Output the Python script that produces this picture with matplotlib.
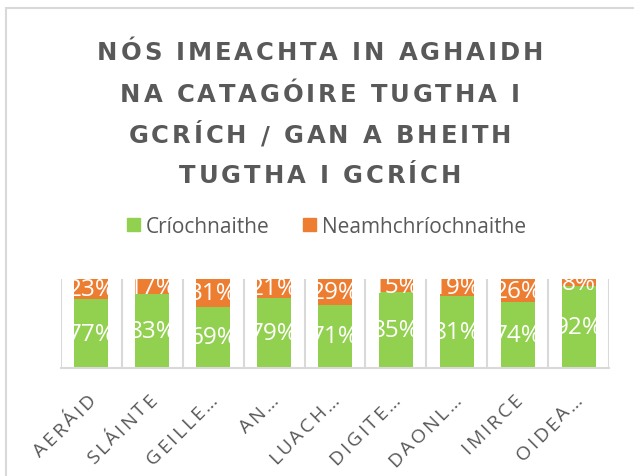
import numpy as np
import matplotlib
matplotlib.use('Agg')
import matplotlib.pyplot as plt
from matplotlib.patches import Rectangle, Patch
from matplotlib.font_manager import FontProperties

categories = ['AERÁID', 'SLÁINTE', 'GEILLE…', 'AN…', 'LUACH…', 'DIGITE…', 'DAONL…', 'IMIRCE', 'OIDEA…']
criochnaithe = [77, 83, 69, 79, 71, 85, 81, 74, 92]
neamhchriochnaithe = [23, 17, 31, 21, 29, 15, 19, 26, 8]
series_names = ['Críochnaithe', 'Neamhchríochnaithe']
title_lines = ['NÓS IMEACHTA IN AGHAIDH', 'NA CATAGÓIRE TUGTHA I',
               'GCRÍCH / GAN A BHEITH', 'TUGTHA I GCRÍCH']

GREEN = '#92D050'
ORANGE = '#ED7D31'
GREY = '#595959'
LIGHT = '#D9D9D9'

W, H = 634, 477
fig = plt.figure(figsize=(W / 100, H / 100), dpi=100)
renderer = fig.canvas.get_renderer()


def advances(text, fp):
    base = renderer.get_text_width_height_descent('HH', fp, ismath=False)[0]
    return [renderer.get_text_width_height_descent('H' + c + 'H', fp, ismath=False)[0] - base
            for c in text]


def spacing_for(text, fp, width):
    return (width - sum(advances(text, fp))) / (len(text) - 1)


def spaced_text(text, x, y, fp, spacing, color, angle=0.0, anchor='center'):
    # x, y: pixels, y measured from the top of the image
    adv = advances(text, fp)
    total = sum(adv) + (len(text) - 1) * spacing
    s0 = -total / 2 if anchor == 'center' else -total
    ca, sa = np.cos(np.radians(angle)), np.sin(np.radians(angle))
    yd = H - y
    d = s0
    for c, a in zip(text, adv):
        if c != ' ':
            px = x + (d + a / 2) * ca
            py = yd + (d + a / 2) * sa
            fig.text(px / W, py / H, c, fontproperties=fp, color=color,
                     rotation=angle, rotation_mode='anchor', ha='center', va='baseline')
        d += a + spacing


# chart frame
fig.patches.append(Rectangle((6 / W, -0.1), 1.2, 1 - 9 / H + 0.1, transform=fig.transFigure,
                             fill=False, ec=LIGHT, lw=1.5))

# title
title_fp = FontProperties(family='DejaVu Sans', weight='bold', size=17.5)
tsp = spacing_for(title_lines[0], title_fp, 446)
for line, yb in zip(title_lines, [60, 101.5, 143, 183]):
    spaced_text(line, 320, yb, title_fp, tsp, GREY)

ax = fig.add_axes([61 / W, 1 - 369 / H, 548 / W, 89 / H])
x = np.arange(len(categories))
c = np.array(criochnaithe) / 100
n = np.array(neamhchriochnaithe) / 100
bw = 0.56
ax.bar(x, c, width=bw, color=GREEN, zorder=2)
ax.bar(x, n, bottom=c, width=bw, color=ORANGE, zorder=2)
ax.set_xlim(-0.5, len(categories) - 0.5)
ax.set_ylim(0, 1)

lab_fp = FontProperties(family='Open Sans', size=17.5)
for i in range(len(categories)):
    for val, bottom in [(criochnaithe[i], 0), (neamhchriochnaithe[i], c[i])]:
        t = ax.text(i, bottom + val / 200, f'{val}%', ha='center', va='center',
                    color='white', fontproperties=lab_fp, zorder=3, clip_on=True)
        clip = Rectangle((i - bw / 2, 0), bw, 1, transform=ax.transData)
        t.set_clip_path(clip)

ax.set_xticks(np.arange(-0.5, len(categories), 1), minor=True)
ax.set_xticks(x)
ax.set_xticklabels([])
ax.set_yticks([])
ax.tick_params(which='both', length=0)
ax.grid(which='minor', axis='x', color=LIGHT, lw=1.5)
ax.set_axisbelow(True)
for s in ['top', 'left', 'right']:
    ax.spines[s].set_visible(False)
ax.spines['bottom'].set_color(LIGHT)
ax.spines['bottom'].set_linewidth(1.5)

# rotated, letter-spaced category labels
tick_fp = FontProperties(family='Open Sans', size=14)
ksp = spacing_for(categories[0], tick_fp, 80)
for i, cat in enumerate(categories):
    xd = ax.transData.transform((i, 0))[0]
    spaced_text(cat, xd + 5, 401, tick_fp, ksp, GREY, angle=45, anchor='right')

handles = [Patch(color=GREEN), Patch(color=ORANGE)]
fig.legend(handles, series_names, loc='center', bbox_to_anchor=(326.5 / W, 1 - 227.5 / H),
           ncol=2, frameon=False, prop=FontProperties(family='Open Sans', size=15),
           handlelength=0.62, handleheight=0.62, handletextpad=0.3, columnspacing=1.6,
           labelcolor=GREY, borderaxespad=0, borderpad=0)

fig.savefig('out.png', dpi=100)
